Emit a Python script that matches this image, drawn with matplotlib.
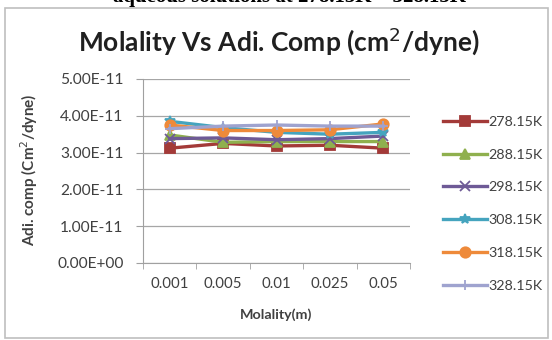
import matplotlib
matplotlib.use('Agg')
import matplotlib.pyplot as plt
from matplotlib.patches import Rectangle

# data
molality = ['0.001', '0.005', '0.01', '0.025', '0.05']
temps = ['278.15K', '288.15K', '298.15K', '308.15K', '318.15K', '328.15K']
comp_278 = [3.12e-11, 3.25e-11, 3.18e-11, 3.20e-11, 3.12e-11]
comp_288 = [3.48e-11, 3.28e-11, 3.30e-11, 3.30e-11, 3.30e-11]
comp_298 = [3.38e-11, 3.40e-11, 3.35e-11, 3.38e-11, 3.45e-11]
comp_308 = [3.85e-11, 3.68e-11, 3.55e-11, 3.50e-11, 3.55e-11]
comp_318 = [3.75e-11, 3.60e-11, 3.60e-11, 3.62e-11, 3.78e-11]
comp_328 = [3.65e-11, 3.72e-11, 3.75e-11, 3.72e-11, 3.72e-11]
series = [comp_278, comp_288, comp_298, comp_308, comp_318, comp_328]

colors = ['#A33A38', '#8FB04E', '#6E5A96', '#45A4BE', '#EE8A3A', '#9FA3CF']
markers = ['s', '^', 'x', '*', 'o', '+']

plt.rcParams['font.family'] = ['Lato', 'DejaVu Sans']

fig = plt.figure(figsize=(5.52, 3.40), dpi=100)

# chart border
fig.patches.append(Rectangle((5 / 552, 0.005), 543 / 552, 1 - 8 / 340 - 0.005,
                             transform=fig.transFigure, fill=False,
                             edgecolor='#BFBFBF', linewidth=1.2))

# clipped caption from the page above the chart
fig.text(0.525, 1 - 2 / 340, 'aqueous solutions at 278.15K \u2013 328.15K',
         ha='center', va='baseline', fontsize=15, fontweight='bold',
         family='Liberation Serif')

ax = fig.add_axes([143 / 552, 1 - 263 / 340, 267 / 552, 184 / 340])
x = list(range(len(molality)))
for vals, lab, c, m in zip(series, temps, colors, markers):
    ax.plot(x, vals, color=c, marker=m, markersize=7.5, linewidth=2.4,
            markeredgewidth=1.3, label=lab)

ax.set_xlim(-0.5, len(molality) - 0.5)
ax.set_ylim(0, 5e-11)
ax.set_yticks([0, 1e-11, 2e-11, 3e-11, 4e-11, 5e-11])
ax.set_yticklabels(['0.00E+00', '1.00E-11', '2.00E-11', '3.00E-11', '4.00E-11', '5.00E-11'])
ax.set_xticks(x)
ax.set_xticklabels(molality)
ax.set_xticks([i + 0.5 for i in range(-1, len(molality))], minor=True)
ax.tick_params(axis='x', which='major', length=0, pad=10, labelsize=10.8, labelcolor='#404040')
ax.tick_params(axis='x', which='minor', length=4, color='#A0A0A0')
ax.tick_params(axis='y', length=5, pad=9, color='#A0A0A0', labelsize=11.2, labelcolor='#404040')
ax.grid(axis='y', color='#A6A6A6', linewidth=0.9)
ax.set_axisbelow(True)
for s in ['top', 'right']:
    ax.spines[s].set_visible(False)
for s in ['left', 'bottom']:
    ax.spines[s].set_color('#A0A0A0')

ax.set_xlabel('Molality(m)', fontsize=10.3, fontweight='bold', color='#404040')
ax.xaxis.set_label_coords(0.498, -0.245)
ax.set_ylabel('Adi. comp (Cm$^2$/dyne)', fontsize=11, fontweight='bold', color='#404040')
ax.yaxis.set_label_coords(-0.386, 0.505)

ax.set_title('Molality Vs Adi. Comp (cm$^2$/dyne)', fontsize=19, fontweight='bold',
             color='#202020', pad=20, x=0.51)

fig.legend(loc='upper left', bbox_to_anchor=(430 / 552, 1 - 103 / 340), frameon=False,
           fontsize=10.3, labelspacing=1.45, handlelength=3.1, handletextpad=0.1,
           labelcolor='#404040')

fig.savefig('out.png', dpi=100)
